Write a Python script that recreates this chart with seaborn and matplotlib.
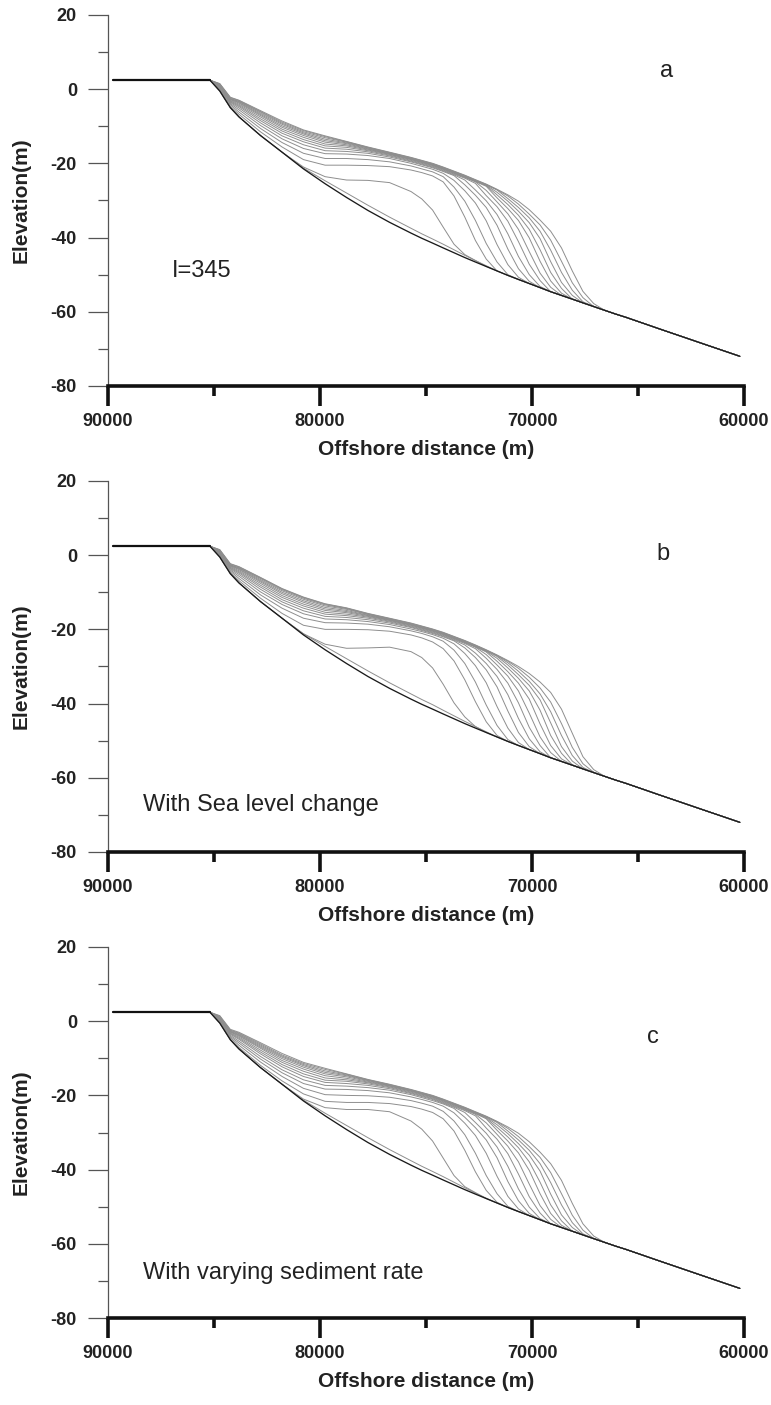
import matplotlib
matplotlib.use("Agg")
import matplotlib.pyplot as plt
import pandas as pd
import seaborn as sns
from matplotlib.ticker import MultipleLocator, StrMethodFormatter

# ---------------- data ----------------
SHELF_X = [89750, 85190]
SHELF_Y = [2.4, 2.4]
GRID_X = [84730, 84230, 83820, 82810, 81790, 80780, 79760, 78750, 77740, 76720,
          75710, 75200, 74690, 74190, 73680, 73170, 72670, 72160, 71650, 71140,
          70640, 70130, 69620, 69120, 68610, 68100, 67600, 67090, 66580, 66070, 65570]
TAIL_X = [64000, 62000, 60200]
TAIL_Y = [-64.6, -68.5, -72.0]

# initial (basement) profile on GRID_X
BASE = [-0.5, -5.0, -7.5, -12.5, -17.0, -21.5, -25.5, -29.2, -32.7, -35.9,
        -38.8, -40.2, -41.5, -42.8, -44.1, -45.4, -46.6, -47.8, -49.0, -50.2,
        -51.3, -52.4, -53.5, -54.6, -55.6, -56.6, -57.6, -58.6, -59.6, -60.6, -61.5]

# successive profiles (values on GRID_X until they rejoin the basement)
A_L1 = [-0.5, -5.0, -7.5, -12.5, -17.0, -21.3, -24.7, -28.0, -31.3, -34.5, -37.5, -39.0, -40.4, -41.8, -43.3, -44.8, -46.2, -47.6]
A1 = [-0.5, -5.0, -7.5, -12.5, -17.0, -21.0, -23.6, -24.5, -24.6, -25.2, -27.6, -29.6, -32.6, -37.2, -41.8, -44.6, -46.2]
A2 = [-0.3, -4.6, -6.8, -11.5, -15.6, -19.0, -20.5, -20.5, -20.6, -20.9, -21.8, -22.5, -23.4, -25.0, -28.8, -34.5, -40.8, -45.8]
A3 = [0.0, -4.2, -6.2, -10.6, -14.4, -17.3, -18.7, -18.7, -19.0, -19.6, -20.7, -21.5, -22.3, -23.6, -26.4, -30.2, -35.4, -41.6, -46.6, -50.0]
A4 = [0.2, -3.9, -5.6, -9.8, -13.4, -16.0, -17.4, -17.5, -17.9, -18.7, -20.0, -20.8, -21.6, -22.7, -24.6, -27.4, -30.7, -35.5, -41.9, -47.3, -50.7]
A5 = [0.4, -3.6, -5.1, -9.1, -12.6, -15.0, -16.6, -16.8, -17.3, -18.3, -19.6, -20.4, -21.2, -22.2, -23.3, -25.8, -28.6, -31.9, -36.7, -43.1, -48.4, -51.8]
A6 = [0.6, -3.4, -4.7, -8.5, -11.9, -14.2, -15.9, -16.2, -16.9, -18.0, -19.4, -20.2, -21.0, -22.0, -23.1, -24.5, -27.2, -30.1, -33.8, -39.0, -45.1, -50.0, -53.2]
A7 = [0.8, -3.2, -4.4, -8.0, -11.3, -13.6, -15.3, -15.7, -16.6, -17.8, -19.2, -20.0, -20.8, -21.8, -22.9, -24.0, -25.4, -28.7, -31.7, -35.6, -41.1, -47.2, -51.6]
A8 = [0.9, -3.0, -4.1, -7.5, -10.8, -13.0, -14.8, -15.3, -16.4, -17.6, -19.0, -19.8, -20.6, -21.6, -22.7, -23.8, -25.0, -27.3, -30.4, -33.6, -37.8, -43.8, -49.6, -53.4]
A9 = [1.0, -2.8, -3.8, -7.1, -10.3, -12.5, -14.3, -15.0, -16.2, -17.5, -18.9, -19.7, -20.5, -21.5, -22.6, -23.7, -24.9, -26.2, -29.3, -32.2, -35.4, -40.1, -46.4, -51.7, -55.0]
A10 = [1.1, -2.7, -3.6, -6.8, -9.9, -12.1, -13.9, -14.7, -16.1, -17.4, -18.8, -19.6, -20.4, -21.4, -22.5, -23.6, -24.8, -26.0, -28.5, -31.1, -34.0, -37.8, -43.3, -49.4, -53.7]
A11 = [1.2, -2.6, -3.4, -6.5, -9.5, -11.8, -13.5, -14.5, -15.9, -17.3, -18.7, -19.5, -20.3, -21.3, -22.4, -23.5, -24.7, -25.9, -27.8, -30.2, -32.9, -36.0, -40.3, -46.5, -52.1, -55.6]
A12 = [1.3, -2.5, -3.3, -6.2, -9.2, -11.5, -13.1, -14.3, -15.8, -17.2, -18.6, -19.4, -20.2, -21.2, -22.3, -23.4, -24.6, -25.8, -27.2, -29.5, -31.9, -34.7, -38.3, -43.4, -49.4, -54.2, -57.3]
A13 = [1.4, -2.3, -3.1, -6.0, -8.9, -11.2, -12.8, -14.2, -15.7, -17.1, -18.5, -19.3, -20.1, -21.1, -22.2, -23.3, -24.5, -25.7, -27.1, -28.8, -31.0, -33.7, -36.6, -40.7, -46.4, -52.2, -56.2]
A14 = [1.5, -2.2, -3.0, -5.8, -8.6, -11.0, -12.6, -14.1, -15.6, -17.0, -18.4, -19.2, -20.0, -21.0, -22.1, -23.2, -24.4, -25.6, -27.0, -28.5, -30.2, -32.5, -35.3, -38.3, -42.8, -49.0, -54.5, -57.8]

B_L1 = [-0.5, -5.0, -7.5, -12.5, -17.0, -21.2, -24.6, -27.9, -31.2, -34.4, -37.4, -38.9, -40.3, -41.8, -43.3, -44.8, -46.2, -47.6]
B1 = [-0.5, -5.0, -7.5, -12.5, -17.0, -21.2, -24.0, -25.1, -25.0, -24.8, -26.0, -27.6, -30.4, -34.8, -39.8, -43.6, -46.2]
B2 = [-0.3, -4.7, -6.9, -11.6, -15.7, -18.9, -20.0, -20.0, -20.1, -20.5, -21.5, -22.3, -23.4, -25.2, -28.5, -33.6, -39.5, -44.9, -48.6]
B3 = [0.0, -4.3, -6.3, -10.7, -14.3, -17.0, -18.2, -18.3, -18.6, -19.3, -20.4, -21.1, -22.0, -23.2, -25.6, -29.2, -34.2, -40.4, -45.9, -49.7]
B4 = [0.2, -4.0, -5.7, -9.9, -13.3, -15.8, -17.2, -17.4, -17.9, -18.7, -19.9, -20.6, -21.4, -22.4, -23.9, -26.5, -29.8, -34.4, -40.8, -46.6, -50.5]
B5 = [0.4, -3.7, -5.2, -9.2, -12.6, -15.0, -16.5, -16.8, -17.4, -18.3, -19.5, -20.3, -21.1, -22.0, -23.1, -25.0, -27.6, -30.9, -35.5, -42.0, -47.8, -51.6]
B6 = [0.6, -3.5, -4.8, -8.6, -12.0, -14.3, -15.9, -16.3, -17.0, -18.0, -19.3, -20.1, -20.9, -21.8, -22.9, -24.2, -26.4, -29.2, -32.7, -37.6, -44.0, -49.5, -53.0]
B7 = [0.8, -3.3, -4.5, -8.1, -11.4, -13.7, -15.4, -15.9, -16.7, -17.8, -19.1, -19.9, -20.7, -21.6, -22.7, -23.8, -25.2, -27.8, -30.8, -34.5, -39.8, -46.4, -51.3]
B8 = [0.9, -3.1, -4.2, -7.6, -10.9, -13.2, -14.9, -15.5, -16.5, -17.6, -18.9, -19.7, -20.5, -21.4, -22.5, -23.6, -24.8, -26.8, -29.6, -32.6, -36.6, -42.6, -49.0, -53.2]
B9 = [1.0, -2.9, -3.9, -7.2, -10.4, -12.7, -14.5, -15.2, -16.3, -17.5, -18.8, -19.6, -20.4, -21.3, -22.4, -23.5, -24.7, -26.1, -28.6, -31.4, -34.5, -38.8, -45.5, -51.3, -54.9]
B10 = [1.1, -2.8, -3.7, -6.9, -10.0, -12.3, -14.1, -14.9, -16.2, -17.4, -18.7, -19.5, -20.3, -21.2, -22.3, -23.4, -24.6, -25.9, -27.8, -30.4, -33.2, -36.6, -41.8, -48.6, -53.4, -56.5]
B11 = [1.2, -2.7, -3.5, -6.6, -9.6, -11.9, -13.7, -14.6, -16.0, -17.3, -18.6, -19.4, -20.2, -21.1, -22.2, -23.3, -24.5, -25.8, -27.3, -29.6, -32.2, -35.1, -39.0, -45.2, -51.6, -55.5]
B12 = [1.3, -2.6, -3.4, -6.3, -9.3, -11.6, -13.4, -14.4, -15.9, -17.2, -18.5, -19.3, -20.1, -21.0, -22.1, -23.2, -24.4, -25.7, -27.1, -29.0, -31.3, -34.0, -37.4, -42.2, -48.6, -54.0, -57.2]
B13 = [1.4, -2.4, -3.2, -6.1, -9.1, -11.4, -13.2, -14.3, -15.8, -17.1, -18.4, -19.2, -20.0, -20.9, -22.0, -23.1, -24.3, -25.6, -27.0, -28.6, -30.5, -32.9, -35.8, -39.6, -45.4, -51.8, -56.2, -58.5]
B14 = [1.5, -2.3, -3.1, -6.0, -9.0, -11.3, -13.1, -14.2, -15.7, -17.0, -18.3, -19.1, -19.9, -20.8, -21.9, -23.0, -24.2, -25.5, -26.9, -28.4, -30.0, -31.9, -34.2, -37.0, -41.5, -48.0, -54.3, -57.8]

C_L1 = [-0.5, -5.0, -7.5, -12.5, -17.0, -21.3, -24.8, -28.1, -31.4, -34.6, -37.6, -39.1, -40.5, -41.9, -43.4, -44.9, -46.3, -47.7]
C1 = [-0.5, -5.0, -7.5, -12.5, -17.0, -21.0, -23.3, -23.8, -23.8, -24.4, -26.9, -29.1, -32.3, -36.9, -41.6, -44.6, -46.2]
C2 = [-0.4, -4.8, -7.1, -11.9, -16.1, -19.6, -21.6, -21.9, -21.9, -22.2, -23.0, -23.7, -24.6, -26.3, -29.6, -34.8, -40.6, -45.6, -48.8]
C3 = [-0.1, -4.4, -6.5, -11.0, -14.9, -18.1, -19.8, -20.0, -20.1, -20.5, -21.4, -22.1, -22.9, -24.3, -26.9, -30.6, -35.6, -41.6, -46.5, -49.9]
C4 = [0.1, -4.1, -5.9, -10.2, -13.9, -16.8, -18.3, -18.4, -18.7, -19.3, -20.4, -21.1, -21.9, -22.9, -24.7, -27.5, -30.8, -35.6, -41.8, -47.2, -50.6]
C5 = [0.3, -3.8, -5.4, -9.5, -13.1, -15.8, -17.3, -17.5, -17.9, -18.6, -19.8, -20.6, -21.4, -22.3, -23.5, -25.9, -28.7, -32.0, -36.8, -43.2, -48.4, -51.8]
C6 = [0.5, -3.5, -4.9, -8.8, -12.3, -14.9, -16.5, -16.8, -17.3, -18.2, -19.5, -20.3, -21.1, -22.1, -23.2, -24.6, -27.3, -30.2, -33.9, -39.1, -45.2, -50.1, -53.2]
C7 = [0.7, -3.3, -4.6, -8.3, -11.7, -14.2, -15.9, -16.2, -16.9, -17.9, -19.3, -20.1, -20.9, -21.9, -23.0, -24.1, -25.5, -28.8, -31.8, -35.7, -41.2, -47.3, -51.7]
C8 = [0.8, -3.1, -4.3, -7.8, -11.1, -13.5, -15.3, -15.8, -16.6, -17.7, -19.1, -19.9, -20.7, -21.7, -22.8, -23.9, -25.1, -27.4, -30.5, -33.7, -37.9, -43.9, -49.7, -53.4]
C9 = [0.9, -2.9, -4.0, -7.3, -10.6, -12.9, -14.7, -15.4, -16.4, -17.5, -18.9, -19.7, -20.5, -21.5, -22.6, -23.7, -24.9, -26.3, -29.4, -32.3, -35.5, -40.2, -46.5, -51.8, -55.0]
C10 = [1.0, -2.8, -3.8, -7.0, -10.1, -12.4, -14.2, -15.0, -16.2, -17.4, -18.8, -19.6, -20.4, -21.4, -22.5, -23.6, -24.8, -26.1, -28.6, -31.2, -34.1, -37.9, -43.4, -49.5, -53.8]
C11 = [1.1, -2.7, -3.6, -6.7, -9.7, -12.0, -13.8, -14.7, -16.0, -17.3, -18.7, -19.5, -20.3, -21.3, -22.4, -23.5, -24.7, -25.9, -27.9, -30.3, -33.0, -36.1, -40.4, -46.6, -52.2, -55.6]
C12 = [1.2, -2.5, -3.4, -6.4, -9.4, -11.7, -13.4, -14.5, -15.9, -17.2, -18.6, -19.4, -20.2, -21.2, -22.3, -23.4, -24.6, -25.8, -27.3, -29.6, -32.0, -34.8, -38.4, -43.5, -49.5, -54.3, -57.3]
C13 = [1.35, -2.4, -3.2, -6.1, -9.1, -11.4, -13.0, -14.3, -15.8, -17.1, -18.5, -19.3, -20.1, -21.1, -22.2, -23.3, -24.5, -25.7, -27.1, -28.9, -31.1, -33.8, -36.7, -40.8, -46.5, -52.3, -56.3]
C14 = [1.5, -2.2, -3.0, -5.8, -8.7, -11.1, -12.7, -14.2, -15.7, -17.0, -18.4, -19.2, -20.0, -21.0, -22.1, -23.2, -24.4, -25.6, -27.0, -28.5, -30.2, -32.5, -35.3, -38.4, -42.9, -49.1, -54.6, -57.9]

PANEL_A = [A_L1, A1, A2, A3, A4, A5, A6, A7, A8, A9, A10, A11, A12, A13, A14]
PANEL_B = [B_L1, B1, B2, B3, B4, B5, B6, B7, B8, B9, B10, B11, B12, B13, B14]
PANEL_C = [C_L1, C1, C2, C3, C4, C5, C6, C7, C8, C9, C10, C11, C12, C13, C14]

PANEL_TAGS = ["a", "b", "c"]
PANEL_NOTES = ["I=345", "With Sea level change", "With varying sediment rate"]
X_TICKS = [90000, 80000, 70000, 60000]
Y_TICKS = [20, 0, -20, -40, -60, -80]

# ---------------- style ----------------
sns.set_theme(style="white")
plt.rcParams["font.family"] = ["Liberation Sans", "DejaVu Sans"]
plt.rcParams["axes.unicode_minus"] = False

fig = plt.figure(figsize=(7.71, 14.05), dpi=100)
rects = [[0.1401, 0.7253, 0.8249, 0.2641],
         [0.1401, 0.3936, 0.8249, 0.2641],
         [0.1401, 0.0619, 0.8249, 0.2641]]
tag_pos = [(63630, 4.8), (63800, 0.3), (64300, -4.3)]
note_pos = [(86980, -49.1, "center"), (88350, -68.9, "baseline"), (88350, -69.5, "baseline")]

all_x = SHELF_X + GRID_X + TAIL_X

for k, (rect, curves) in enumerate(zip(rects, [PANEL_A, PANEL_B, PANEL_C])):
    ax = fig.add_axes(rect)
    rows = []
    for j, c in enumerate(curves):
        ys = SHELF_Y + c + BASE[len(c):] + TAIL_Y
        for x, y in zip(all_x, ys):
            rows.append({"curve": j, "x": x, "y": y})
    df = pd.DataFrame(rows)
    sns.lineplot(data=df, x="x", y="y", units="curve", estimator=None, sort=False,
                 color="#8e8e8e", linewidth=0.7, ax=ax, legend=False)
    base_df = pd.DataFrame({"x": all_x, "y": SHELF_Y + BASE + TAIL_Y})
    sns.lineplot(data=base_df, x="x", y="y", estimator=None, sort=False,
                 color="#1a1a1a", linewidth=0.95, ax=ax, legend=False)
    ax.plot(SHELF_X, SHELF_Y, color="#111111", linewidth=1.6)

    ax.set_xlim(90000, 60000)
    ax.set_ylim(-80, 20)
    ax.set_xticks(X_TICKS)
    ax.set_yticks(Y_TICKS)
    ax.xaxis.set_minor_locator(MultipleLocator(5000))
    ax.yaxis.set_minor_locator(MultipleLocator(10))
    ax.xaxis.set_major_formatter(StrMethodFormatter("{x:.0f}"))
    ax.yaxis.set_major_formatter(StrMethodFormatter("{x:.0f}"))

    for s in ["top", "right"]:
        ax.spines[s].set_visible(False)
    ax.spines["left"].set_color("#555555")
    ax.spines["left"].set_linewidth(0.9)
    ax.spines["bottom"].set_color("#111111")
    ax.spines["bottom"].set_linewidth(2.6)

    ax.tick_params(axis="y", which="major", left=True, direction="out", length=14.4,
                   width=0.9, color="#555555", pad=8, labelsize=13, labelcolor="#222222")
    ax.tick_params(axis="y", which="minor", left=True, direction="out", length=7.2,
                   width=0.9, color="#555555")
    ax.tick_params(axis="x", which="major", bottom=True, direction="out", length=14.4,
                   width=2.6, color="#111111", pad=5, labelsize=13, labelcolor="#222222")
    ax.tick_params(axis="x", which="minor", bottom=True, direction="out", length=7.2,
                   width=2.6, color="#111111")
    for lab in ax.get_xticklabels() + ax.get_yticklabels():
        lab.set_fontweight("bold")

    ax.set_xlabel("Offshore distance (m)", fontsize=15, fontweight="bold", color="#222222")
    ax.set_ylabel("Elevation(m)", fontsize=15, fontweight="bold", color="#222222")
    ax.xaxis.set_label_coords(0.5, -0.145)
    ax.yaxis.set_label_coords(-0.121, 0.5)

    tx, ty = tag_pos[k]
    ax.text(tx, ty, PANEL_TAGS[k], fontsize=17, ha="center", va="center", color="#222222")
    nx, ny, va = note_pos[k]
    ax.text(nx, ny, PANEL_NOTES[k], fontsize=17, ha="left", va=va, color="#222222")
    ax.set_facecolor("white")

fig.savefig("out.png", dpi=100, facecolor="white")
